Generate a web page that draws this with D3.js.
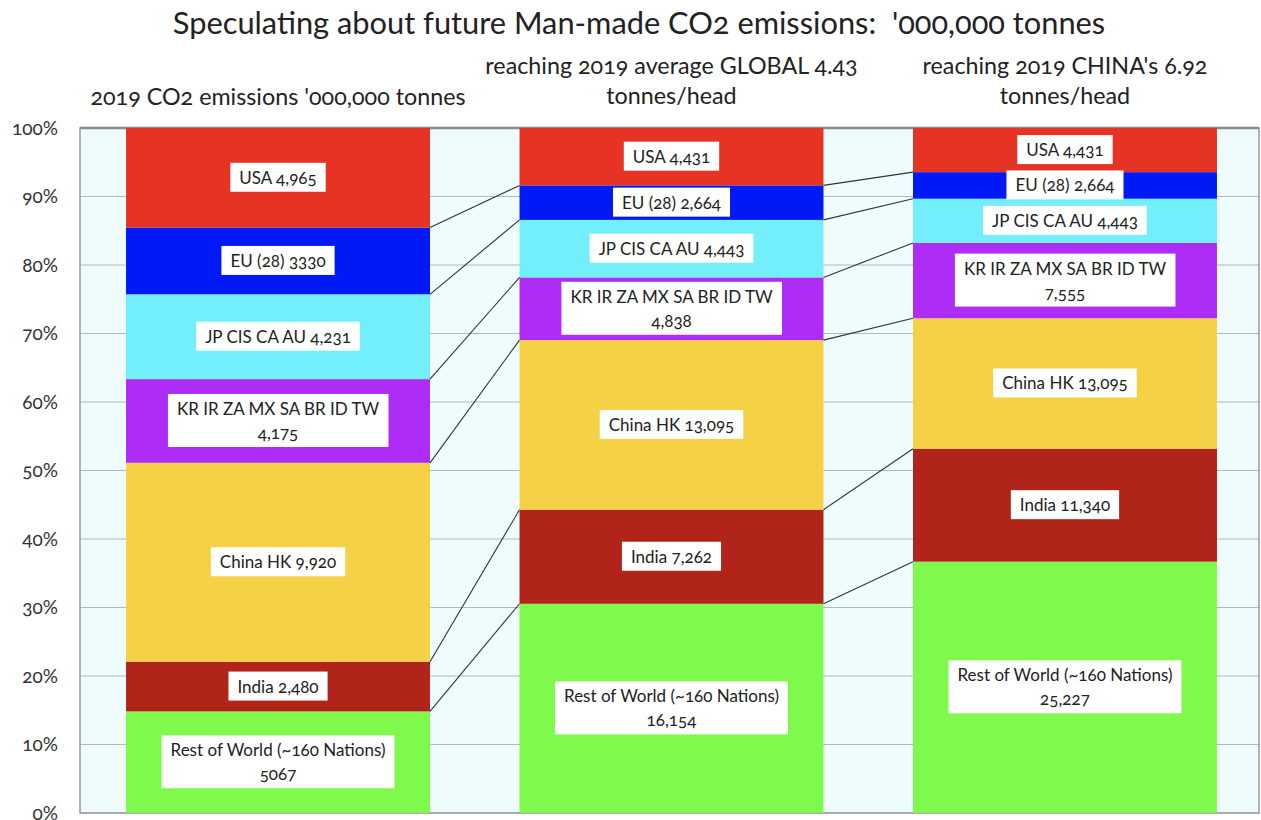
<!DOCTYPE html>
<html>
<head>
<meta charset="utf-8">
<script src="https://cdn.jsdelivr.net/npm/d3@7"></script>
<style>
  body { margin: 0; background: #fff; }
  svg { display: block; font-family: Lato, "Open Sans", sans-serif; }
  text { font-feature-settings: "onum"; white-space: pre; }
</style>
</head>
<body>
<div id="chart"></div>
<script>
// ── Data ──────────────────────────────────────────────────────────────────
const columns = ["2019", "global", "china"];
const columnTitles = [
  ["2019 CO2 emissions '000,000 tonnes"],
  ["reaching 2019 average GLOBAL 4.43", "tonnes/head"],
  ["reaching 2019 CHINA's 6.92", "tonnes/head"]
];
// bottom to top
const regions = ["RoW", "India", "China", "KR", "JP", "EU", "USA"];
const regionColors = {
  RoW: "#7ff94c",
  India: "#b0241a",
  China: "#f5d146",
  KR: "#ad2cf6",
  JP: "#72effa",
  EU: "#0019f5",
  USA: "#e63323"
};
const values2019 = { RoW: 5067, India: 2480, China: 9920, KR: 4175, JP: 4231, EU: 3330, USA: 4965 };
const valuesGlobal = { RoW: 16154, India: 7262, China: 13095, KR: 4838, JP: 4443, EU: 2664, USA: 4431 };
const valuesChina = { RoW: 25227, India: 11340, China: 13095, KR: 7555, JP: 4443, EU: 2664, USA: 4431 };
// the labels as printed on the chart
const labels2019 = { RoW: ["Rest of World (~160 Nations)", "5067"], India: ["India 2,480"], China: ["China HK 9,920"],
  KR: ["KR IR ZA MX SA BR ID TW", "4,175"], JP: ["JP CIS CA AU 4,231"], EU: ["EU (28) 3330"], USA: ["USA 4,965"] };
const labelsGlobal = { RoW: ["Rest of World (~160 Nations)", "16,154"], India: ["India 7,262"], China: ["China HK 13,095"],
  KR: ["KR IR ZA MX SA BR ID TW", "4,838"], JP: ["JP CIS CA AU 4,443"], EU: ["EU (28) 2,664"], USA: ["USA 4,431"] };
const labelsChina = { RoW: ["Rest of World (~160 Nations)", "25,227"], India: ["India 11,340"], China: ["China HK 13,095"],
  KR: ["KR IR ZA MX SA BR ID TW", "7,555"], JP: ["JP CIS CA AU 4,443"], EU: ["EU (28) 2,664"], USA: ["USA 4,431"] };
const yTicks = [0, 0.1, 0.2, 0.3, 0.4, 0.5, 0.6, 0.7, 0.8, 0.9, 1];

const rows = [values2019, valuesGlobal, valuesChina].map((v, i) => ({ col: columns[i], ...v }));
const labelSets = [labels2019, labelsGlobal, labelsChina];

// ── Layout ────────────────────────────────────────────────────────────────
const W = 1261, H = 820;
const M = { top: 128, right: 2, bottom: 7, left: 80 };
const innerW = W - M.left - M.right;
const innerH = H - M.top - M.bottom;

const svg = d3.select("#chart").append("svg").attr("width", W).attr("height", H);

svg.append("text")
  .attr("x", 639).attr("y", 34)
  .attr("text-anchor", "middle")
  .attr("font-size", 30.8)
  .attr("fill", "#222")
  .text("Speculating about future Man-made CO2 emissions:  '000,000 tonnes");

const g = svg.append("g").attr("transform", `translate(${M.left},${M.top})`);

// bars slightly overrun the frame on the right, as in the original
const x = d3.scaleBand().domain(columns).range([0, innerW + 4]).paddingInner(0.2275).paddingOuter(0.117);
const y = d3.scaleLinear().domain([0, 1]).range([innerH, 0]);

// stack then normalise to 100%
const stack = d3.stack().keys(regions).offset(d3.stackOffsetExpand);
const series = stack(rows);

// plot background + grid
g.append("rect").attr("width", innerW).attr("height", innerH).attr("fill", "#effcfd");
g.append("g")
  .selectAll("line")
  .data(yTicks)
  .join("line")
  .attr("x1", 0).attr("x2", innerW)
  .attr("y1", (d) => y(d)).attr("y2", (d) => y(d))
  .attr("stroke", "#b4b8b8").attr("stroke-width", 1.2);

// frame
g.append("rect").attr("width", innerW).attr("height", innerH)
  .attr("fill", "none").attr("stroke", "#9a9a9a").attr("stroke-width", 1.5);
g.append("line").attr("x1", 0).attr("x2", innerW).attr("y1", 0).attr("y2", 0)
  .attr("stroke", "#8a8a8a").attr("stroke-width", 2.5);

// y axis
const yAxis = d3.axisLeft(y).tickValues(yTicks).tickFormat(d3.format(".0%")).tickSize(0).tickPadding(22);
const ya = g.append("g").call(yAxis);
ya.select(".domain").remove();
ya.selectAll("text").attr("font-size", 19).attr("fill", "#333").attr("font-family", "Lato, sans-serif");

// bars
g.append("g")
  .selectAll("g")
  .data(series)
  .join("g")
  .attr("fill", (s) => regionColors[s.key])
  .selectAll("rect")
  .data((s) => s)
  .join("rect")
  .attr("x", (d) => x(d.data.col))
  .attr("width", x.bandwidth())
  .attr("y", (d) => y(d[1]))
  .attr("height", (d) => y(d[0]) - y(d[1]));

// connector lines between columns (segment tops, except 100%)
const links = [];
series.slice(0, -1).forEach((s) => {
  for (let i = 0; i < columns.length - 1; i++) {
    links.push({ a: s[i], b: s[i + 1] });
  }
});
g.append("g")
  .selectAll("line")
  .data(links)
  .join("line")
  .attr("x1", (d) => x(d.a.data.col) + x.bandwidth())
  .attr("x2", (d) => x(d.b.data.col))
  .attr("y1", (d) => y(d.a[1]))
  .attr("y2", (d) => y(d.b[1]))
  .attr("stroke", "#333").attr("stroke-width", 1.1);

// segment labels in white boxes
const lineH = 24;
series.forEach((s) => {
  s.forEach((d, i) => {
    const lines = labelSets[i][s.key];
    const cx = x(d.data.col) + x.bandwidth() / 2;
    const cy = (y(d[0]) + y(d[1])) / 2;
    const lg = g.append("g");
    const box = lg.append("rect").attr("fill", "#fff");
    const t = lg.append("text")
      .attr("text-anchor", "middle")
      .attr("font-size", 17)
      .attr("fill", "#222");
    lines.forEach((ln, k) => {
      t.append("tspan")
        .attr("x", cx)
        .attr("y", cy + (k - (lines.length - 1) / 2) * lineH + 6)
        .text(ln);
    });
    const bb = t.node().getBBox();
    box.attr("x", bb.x - 9).attr("y", bb.y - 4)
      .attr("width", bb.width + 18).attr("height", bb.height + 8);
  });
});

// column titles
svg.append("g")
  .selectAll("text")
  .data(columnTitles)
  .join("text")
  .attr("text-anchor", "middle")
  .attr("font-size", 23.3)
  .attr("fill", "#222")
  .each(function (lines, i) {
    const cx = M.left + x(columns[i]) + x.bandwidth() / 2;
    const y0 = lines.length === 1 ? 105 : 74;
    d3.select(this).selectAll("tspan")
      .data(lines)
      .join("tspan")
      .attr("x", cx)
      .attr("y", (d, k) => y0 + k * 30)
      .text((d) => d);
  });
</script>
</body>
</html>
